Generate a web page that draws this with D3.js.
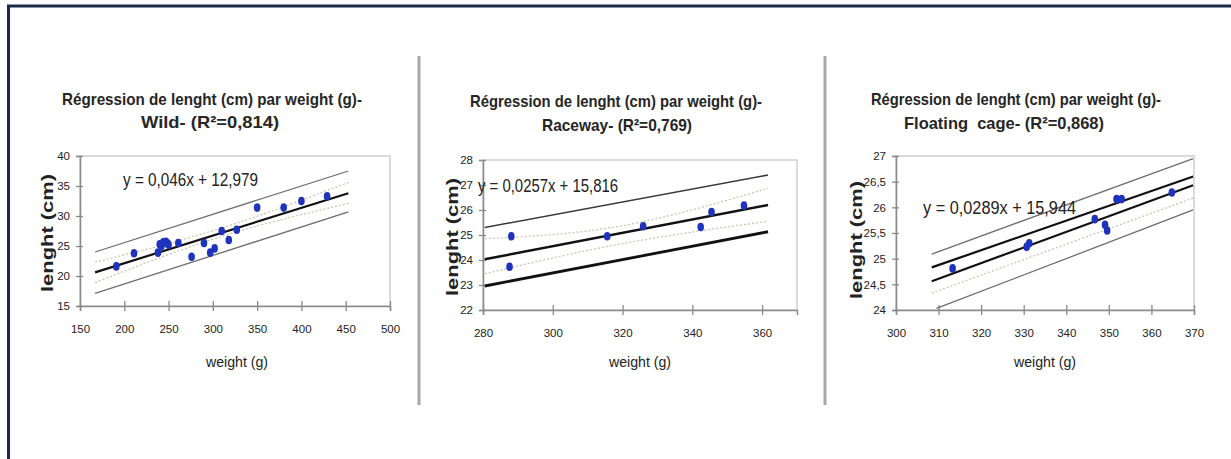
<!DOCTYPE html>
<html><head><meta charset="utf-8">
<script src="https://cdn.jsdelivr.net/npm/d3@7"></script>
<style>
html,body{margin:0;padding:0;background:#fff;}
svg{display:block;}
text{font-family:"Liberation Sans",Arial,sans-serif;white-space:pre;}
</style></head>
<body>
<svg id="chart" width="1231" height="459"></svg>
<script>
// ---------- DATA ----------
// Panel 1 : Wild
const wildWeight = [191, 211, 238, 240, 242, 244, 247, 249, 250, 261, 276, 290, 297, 302, 310, 318, 327, 350, 380, 400, 429];
const wildLength = [21.6, 23.8, 23.9, 25.3, 25.0, 25.6, 25.7, 25.4, 25.2, 25.5, 23.2, 25.5, 23.9, 24.6, 27.5, 26.0, 27.7, 31.4, 31.4, 32.5, 33.3];
const wildXTicks = [150, 200, 250, 300, 350, 400, 450, 500];
const wildYTicks = [15, 20, 25, 30, 35, 40];
const wildFit = [[167, 20.6], [453, 33.8]];
const wildPredUp = [[167, 24.0], [453, 37.5]];
const wildPredLo = [[167, 17.1], [453, 30.7]];
const wildConfUp = [[167, 22.3], [310, 28.0], [453, 35.6]];
const wildConfLo = [[167, 18.9], [310, 26.6], [453, 32.1]];

// Panel 2 : Raceway
const racewayWeight = [288.1, 287.6, 315.6, 325.9, 342.4, 345.5, 354.8];
const racewayLength = [24.95, 23.73, 24.95, 25.35, 25.32, 25.92, 26.18];
const racewayXTicks = [280, 300, 320, 340, 360];
const racewayYTicks = [22, 23, 24, 25, 26, 27, 28];
const racewayFit = [[280.5, 24.03], [361.7, 26.2]];
const racewayEqLine = [[280.5, 22.96], [361.7, 25.13]];
const racewayPredUp = [[280.5, 25.3], [361.7, 27.4]];
const racewayConfUp = [[280.5, 24.85], [316, 25.28], [361.7, 26.87]];
const racewayConfLo = [[280.5, 23.45], [316, 24.55], [361.7, 25.55]];

// Panel 3 : Floating cage
const cageWeight = [313.3, 330.7, 331.3, 346.7, 349.1, 349.6, 351.8, 353.0, 364.8];
const cageLength = [24.81, 25.23, 25.30, 25.77, 25.66, 25.55, 26.16, 26.16, 26.29];
const cageXTicks = [300, 310, 320, 330, 340, 350, 360, 370];
const cageYTicks = [24, 24.5, 25, 25.5, 26, 26.5, 27];
const cageFit = [[308.4, 24.83], [369.8, 26.6]];
const cageFit2 = [[308.4, 24.56], [369.8, 26.43]];
const cagePredUp = [[308.4, 25.09], [369.8, 26.95]];
const cagePredLo = [[309.5, 24.03], [369.8, 25.95]];
const cageConf = [[308.4, 24.33], [369.8, 26.18]];

const titleLine1 = "Régression de lenght (cm) par weight (g)-";
const subtitles = ["Wild- (R²=0,814)", "Raceway- (R²=0,769)", "Floating  cage- (R²=0,868)"];
const equations = ["y = 0,046x + 12,979", "y = 0,0257x + 15,816", "y = 0,0289x + 15,944"];
const yTitle = "lenght (cm)";
const xTitle = "weight (g)";

// ---------- LAYOUT ----------
const svg = d3.select("#chart");
const fmt = d => String(d).replace(".", ",");

// outer frame
svg.append("line").attr("x1", 7).attr("x2", 1231).attr("y1", 6).attr("y2", 6)
  .attr("stroke", "#1b2a48").attr("stroke-width", 3);
svg.append("line").attr("x1", 8.5).attr("x2", 8.5).attr("y1", 5).attr("y2", 459)
  .attr("stroke", "#1b2a48").attr("stroke-width", 3);
// separators
[419, 825].forEach(x => svg.append("line").attr("x1", x).attr("x2", x).attr("y1", 56).attr("y2", 405)
  .attr("stroke", "#a8a8a8").attr("stroke-width", 3));

const panels = [
  {xs: wildWeight, ys: wildLength, xt: wildXTicks, yt: wildYTicks, xd: [150, 500], yd: [15, 40],
   xr: [80, 390], yr: [306, 156],
   title: {cx1: 212, w1: 300, cx2: 210, w2: 138, y1: 105, y2: 128},
   eq: {x: 123, w: 135, y: 186}, ytl: {x: 53, y: 233}, xtl: {x: 237},
   lines: [
     {d: wildPredUp, c: "#6e6e6e", w: 1.3}, {d: wildPredLo, c: "#6e6e6e", w: 1.3},
     {d: wildConfUp, c: "#c9c6b0", w: 1.3, dash: "2,2"}, {d: wildConfLo, c: "#c9c6b0", w: 1.3, dash: "2,2"},
     {d: wildFit, c: "#111", w: 2.2}]},
  {xs: racewayWeight, ys: racewayLength, xt: racewayXTicks, yt: racewayYTicks, xd: [280, 370], yd: [22, 28],
   xr: [483, 797], yr: [310, 160],
   title: {cx1: 616, w1: 292, cx2: 617, w2: 150, y1: 107, y2: 131},
   eq: {x: 478, w: 140, y: 192}, ytl: {x: 458, y: 237}, xtl: {x: 640},
   lines: [
     {d: racewayPredUp, c: "#3a3a3a", w: 1.5},
     {d: racewayConfUp, c: "#c9c6b0", w: 1.3, dash: "2,2"}, {d: racewayConfLo, c: "#c9c6b0", w: 1.3, dash: "2,2"},
     {d: racewayFit, c: "#111", w: 2.4}, {d: racewayEqLine, c: "#111", w: 2.8}]},
  {xs: cageWeight, ys: cageLength, xt: cageXTicks, yt: cageYTicks, xd: [300, 370], yd: [24, 27],
   xr: [896, 1194], yr: [310, 156],
   title: {cx1: 1016, w1: 290, cx2: 1004, w2: 200, y1: 105, y2: 129},
   eq: {x: 923, w: 153, y: 214}, ytl: {x: 862, y: 240}, xtl: {x: 1045},
   lines: [
     {d: cagePredUp, c: "#6e6e6e", w: 1.3}, {d: cagePredLo, c: "#6e6e6e", w: 1.3},
     {d: cageConf, c: "#c9c6b0", w: 1.3, dash: "2,2"},
     {d: cageFit, c: "#111", w: 2.2}, {d: cageFit2, c: "#111", w: 2.2}]}
];

panels.forEach((p, i) => {
  const g = svg.append("g");
  const x = d3.scaleLinear().domain(p.xd).range(p.xr);
  const y = d3.scaleLinear().domain(p.yd).range(p.yr);

  // titles
  g.append("text").attr("x", p.title.cx1).attr("y", p.title.y1).attr("text-anchor", "middle")
    .attr("font-size", 17).attr("font-weight", "bold").attr("fill", "#262626")
    .attr("textLength", p.title.w1).attr("lengthAdjust", "spacingAndGlyphs").text(titleLine1);
  g.append("text").attr("x", p.title.cx2).attr("y", p.title.y2).attr("text-anchor", "middle")
    .attr("font-size", 17).attr("font-weight", "bold").attr("fill", "#262626")
    .attr("textLength", p.title.w2).attr("lengthAdjust", "spacingAndGlyphs").text(subtitles[i]);

  // plot frame (top/right)
  g.append("rect").attr("x", p.xr[0]).attr("y", p.yr[1]).attr("width", p.xr[1] - p.xr[0])
    .attr("height", p.yr[0] - p.yr[1]).attr("fill", "none").attr("stroke", "#cfcfcf").attr("stroke-width", 1.5);

  // axes
  const ax = g.append("g").attr("transform", `translate(0,${p.yr[0]})`)
    .call(d3.axisBottom(x).tickValues(p.xt).tickFormat(fmt).tickSize(5).tickPadding(14));
  ax.selectAll(".tick line").attr("y1", -5).attr("y2", 5).attr("stroke", "#8a8a8a").attr("stroke-width", 1.3);
  ax.select(".domain").attr("stroke", "#8a8a8a").attr("stroke-width", 1.5);
  ax.selectAll(".tick text").attr("font-size", 11.5).attr("fill", "#222")
    .attr("font-family", "'Liberation Sans',Arial,sans-serif");

  const ay = g.append("g").attr("transform", `translate(${p.xr[0]},0)`)
    .call(d3.axisLeft(y).tickValues(p.yt).tickFormat(fmt).tickSize(4).tickPadding(6));
  ay.selectAll(".tick line").attr("x1", -4).attr("x2", 3).attr("stroke", "#8a8a8a").attr("stroke-width", 1.3);
  ay.select(".domain").attr("stroke", "#8a8a8a").attr("stroke-width", 1.5);
  ay.selectAll(".tick text").attr("font-size", 11.5).attr("fill", "#222")
    .attr("font-family", "'Liberation Sans',Arial,sans-serif");

  // lines
  const lineGen = d3.line().x(d => x(d[0])).y(d => y(d[1])).curve(d3.curveMonotoneX);
  p.lines.forEach(l => {
    g.append("path").attr("d", lineGen(l.d)).attr("fill", "none").attr("stroke", l.c)
      .attr("stroke-width", l.w).attr("stroke-dasharray", l.dash || null);
  });

  // points
  g.selectAll("ellipse.pt").data(p.xs.map((v, k) => [v, p.ys[k]])).join("ellipse")
    .attr("class", "pt").attr("cx", d => x(d[0])).attr("cy", d => y(d[1]))
    .attr("rx", 3.3).attr("ry", 4.3).attr("fill", "#1f33bd");

  // equation
  g.append("text").attr("x", p.eq.x).attr("y", p.eq.y).attr("font-size", 18).attr("fill", "#222")
    .attr("textLength", p.eq.w).attr("lengthAdjust", "spacingAndGlyphs").text(equations[i]);

  // axis titles
  g.append("text").attr("transform", `translate(${p.ytl.x},${p.ytl.y}) rotate(-90)`)
    .attr("text-anchor", "middle").attr("font-size", 16).attr("font-weight", "bold").attr("fill", "#222")
    .attr("textLength", 118).attr("lengthAdjust", "spacingAndGlyphs").text(yTitle);
  g.append("text").attr("x", p.xtl.x).attr("y", 367).attr("text-anchor", "middle")
    .attr("font-size", 15).attr("fill", "#222")
    .attr("textLength", 62).attr("lengthAdjust", "spacingAndGlyphs").text(xTitle);
});
</script>
</body></html>
